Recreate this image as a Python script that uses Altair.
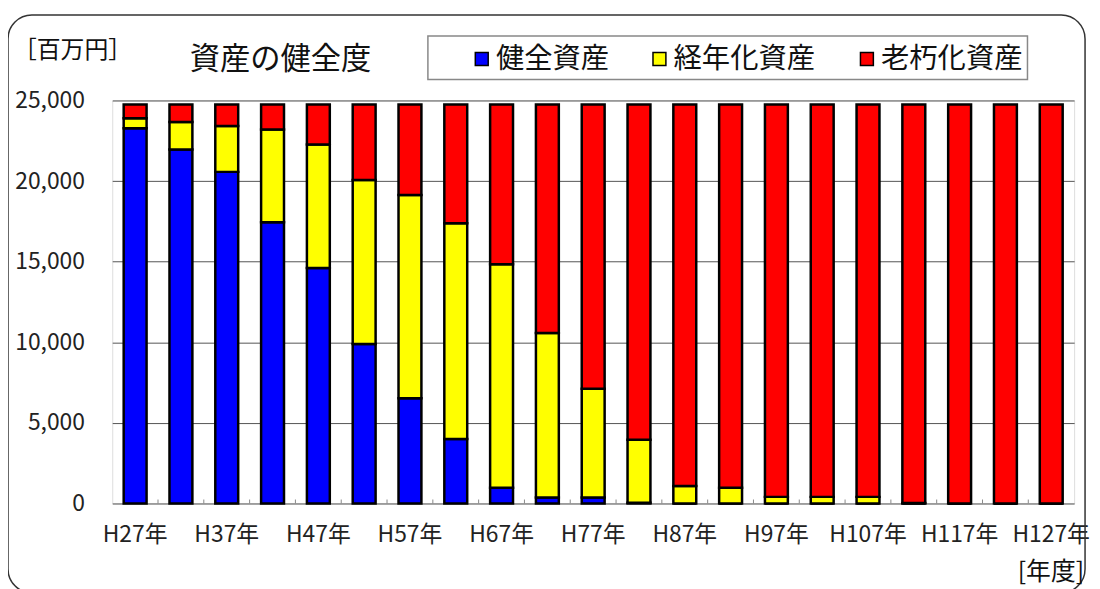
import altair as alt
import pandas as pd

# ---- data ----
years = ["H27年", "H32年", "H37年", "H42年", "H47年", "H52年", "H57年", "H62年",
         "H67年", "H72年", "H77年", "H82年", "H87年", "H92年", "H97年", "H102年",
         "H107年", "H112年", "H117年", "H122年", "H127年"]
healthy = [23280, 21960, 20570, 17450, 14610, 9900, 6530, 4000, 970, 370, 370,
           50, 0, 0, 0, 0, 0, 0, 0, 0, 0]
aging = [610, 1700, 2850, 5750, 7660, 10160, 12600, 13380, 13870, 10200, 6750,
         3910, 1090, 970, 410, 410, 410, 30, 0, 0, 0]
decrepit = [860, 1090, 1330, 1550, 2480, 4690, 5620, 7370, 9910, 14180, 17630,
            20790, 23660, 23780, 24340, 24340, 24340, 24720, 24750, 24750, 24750]
series = ["健全資産", "経年化資産", "老朽化資産"]
colors = ["#0000FF", "#FFFF00", "#FF0000"]
y_ticks = [0, 5000, 10000, 15000, 20000, 25000]

title_text = "資産の健全度"
y_unit = "［百万円］"
x_unit = "[年度]"

# stacked segments (bottom -> top), built from the arrays above
rows = []
for i, yr in enumerate(years):
    base = 0
    for k, vals in enumerate([healthy, aging, decrepit]):
        rows.append({"year": yr, "series": series[k], "y0": base,
                     "y1": base + vals[i]})
        base += vals[i]
df = pd.DataFrame(rows)
df_years = pd.DataFrame({"year": years[:-1]})
one = pd.DataFrame({"a": [0]})

FONT = "Noto Sans CJK JP"
W, H = 969, 406

x_scale = alt.Scale(paddingInner=0.5, paddingOuter=0.25)
x_axis = alt.Axis(title=None, values=years[::2], labelAngle=0, labelFont=FONT,
                  labelFontSize=23, labelColor="#222", ticks=False, domain=False,
                  labelPadding=20, grid=False)
y_scale = alt.Scale(domain=[0, 25000], nice=False)
y_axis = alt.Axis(title=None, values=y_ticks, format=",.0f", grid=True,
                  gridColor="#555", gridWidth=1, ticks=False, domain=False,
                  labelPadding=28, labelFontSize=23, labelFont=FONT,
                  labelColor="#222")

legend_x = [358, 537, 746]


def series_layer(k):
    d = df[df["series"] == series[k]]
    return alt.Chart(d).mark_bar(stroke="black", strokeWidth=2.5).encode(
        x=alt.X("year:N", sort=years, scale=x_scale, axis=x_axis),
        y=alt.Y("y1:Q", scale=y_scale, axis=y_axis),
        y2="y0:Q",
        color=alt.Color("series:N",
                        scale=alt.Scale(domain=[series[k]], range=[colors[k]]),
                        legend=alt.Legend(title=None, orient="none",
                                          legendX=legend_x[k], legendY=-56,
                                          symbolType="square", symbolSize=169,
                                          symbolStrokeColor="black",
                                          symbolStrokeWidth=1.5, symbolOpacity=1,
                                          labelFont=FONT, labelFontSize=28.5,
                                          labelColor="#111", labelOffset=0)),
    )


inner_ticks = alt.Chart(df_years).mark_rule(color="#888", strokeWidth=1,
                                            xOffset=11.5).encode(
    x=alt.X("year:N", sort=years, scale=x_scale, axis=x_axis, bandPosition=1),
    y=alt.value(H),
    y2=alt.value(H - 4),
)

legend_box = alt.Chart(one).mark_rect(fill="white", stroke="#888", strokeWidth=1.5).encode(
    x=alt.value(318), x2=alt.value(922), y=alt.value(-65), y2=alt.value(-21)
)

frame = alt.Chart(one).mark_rect(fillOpacity=0, stroke="#333", strokeWidth=1.5,
                                 cornerRadius=24).encode(
    x=alt.value(-105), x2=alt.value(980), y=alt.value(-86), y2=alt.value(496)
)

title = alt.Chart(one).mark_text(text=title_text, align="left", baseline="alphabetic",
                                 font=FONT, fontSize=30.5, color="#111").encode(
    x=alt.value(78), y=alt.value(-32)
)
yunit = alt.Chart(one).mark_text(text=y_unit, align="left", baseline="alphabetic",
                                 font=FONT, fontSize=24, color="#111").encode(
    x=alt.value(-100), y=alt.value(-43)
)
xunit = alt.Chart(one).mark_text(text=x_unit, align="right", baseline="alphabetic",
                                 font=FONT, fontSize=25, color="#111").encode(
    x=alt.value(979), y=alt.value(483)
)

chart = alt.layer(
    frame, legend_box, series_layer(0), series_layer(1), series_layer(2),
    inner_ticks, title, yunit, xunit
).resolve_scale(color="independent").properties(
    width=W, height=H,
    autosize=alt.AutoSizeParams(type="none"),
    padding={"left": 105, "top": 91, "right": 18, "bottom": 84},
).configure_view(stroke="black", strokeWidth=2).configure(background="white")

chart.save("out.html", embed_options={"renderer": "svg", "actions": False})
